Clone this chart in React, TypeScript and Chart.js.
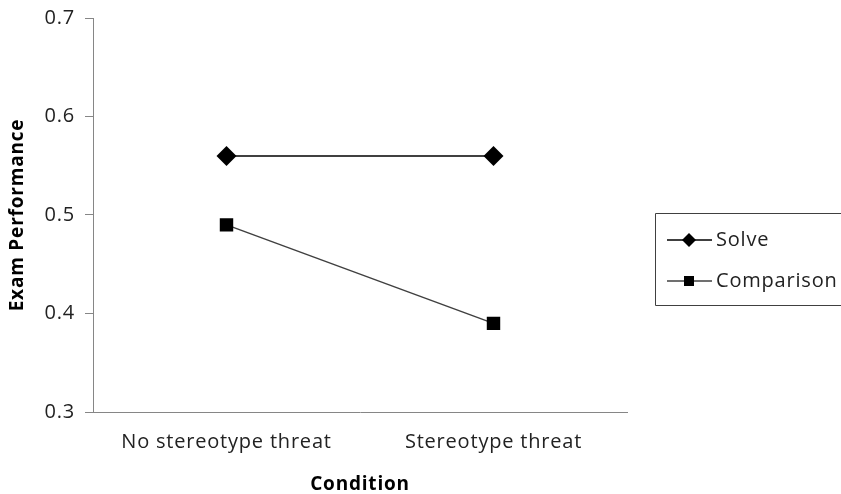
import React, { useEffect, useRef } from "react";
import { Chart, registerables } from "chart.js";

Chart.register(...registerables);

const categories = ["No stereotype threat", "Stereotype threat"];
const solveValues = [0.56, 0.56];
const comparisonValues = [0.49, 0.39];
const seriesNames = ["Solve", "Comparison"];
const yTicks = [0.3, 0.4, 0.5, 0.6, 0.7];

const FONT = "'Open Sans', 'Noto Sans', sans-serif";

const spacingPlugin = {
  id: "letterSpacing",
  beforeUpdate(chart: any) {
    chart.ctx.letterSpacing = "0.8px";
  },
  beforeDraw(chart: any) {
    chart.ctx.letterSpacing = "0.8px";
  },
};

const legendPlugin = {
  id: "boxLegend",
  afterDraw(chart: any) {
    const ctx = chart.ctx;
    const left = 655.5;
    const top = 213.5;
    const bottom = 305.5;
    ctx.save();
    ctx.strokeStyle = "#404040";
    ctx.lineWidth = 1;
    ctx.beginPath();
    ctx.moveTo(chart.width + 2, top);
    ctx.lineTo(left, top);
    ctx.lineTo(left, bottom);
    ctx.lineTo(chart.width + 2, bottom);
    ctx.stroke();
    const rows = [240, 281];
    chart.data.datasets.forEach((ds: any, i: number) => {
      const y = rows[i];
      ctx.strokeStyle = ds.borderColor;
      ctx.lineWidth = 1.5;
      ctx.beginPath();
      ctx.moveTo(667, y);
      ctx.lineTo(712, y);
      ctx.stroke();
      ctx.fillStyle = "#000";
      ctx.beginPath();
      if (ds.pointStyle === "rectRot") {
        const r = 7;
        ctx.moveTo(689 - r, y);
        ctx.lineTo(689, y - r);
        ctx.lineTo(689 + r, y);
        ctx.lineTo(689, y + r);
        ctx.closePath();
      } else {
        ctx.rect(689 - 5, y - 5, 10, 10);
      }
      ctx.fill();
      ctx.fillStyle = "#222";
      ctx.font = `20px ${FONT}`;
      ctx.letterSpacing = "0.8px";
      ctx.textBaseline = "middle";
      ctx.textAlign = "left";
      ctx.fillText(ds.label, 716, y);
    });
    ctx.restore();
  },
};

export default function App() {
  const ref = useRef<HTMLCanvasElement | null>(null);
  useEffect(() => {
    document.body.style.margin = "0";
    const canvas = ref.current!;
    const chart = new Chart(canvas, {
      type: "line",
      data: {
        labels: categories,
        datasets: [
          {
            label: seriesNames[0],
            data: solveValues,
            borderColor: "#000000",
            backgroundColor: "#000000",
            borderWidth: 1.5,
            pointStyle: "rectRot",
            pointRadius: 10,
            pointBorderWidth: 0,
            pointBackgroundColor: "#000000",
          },
          {
            label: seriesNames[1],
            data: comparisonValues,
            borderColor: "#404040",
            backgroundColor: "#000000",
            borderWidth: 1.5,
            pointStyle: "rect",
            pointRadius: 9.5,
            pointBorderWidth: 0,
            pointBackgroundColor: "#000000",
          },
        ],
      },
      options: {
        animation: false,
        responsive: false,
        layout: { padding: { top: 18, right: 214, left: 0, bottom: 0 } },
        plugins: {
          legend: { display: false },
          tooltip: { enabled: false },
        },
        scales: {
          x: {
            offset: true,
            grid: { display: false },
            border: { display: true, color: "#868686", width: 1 },
            ticks: { color: "#222", font: { family: FONT, size: 20 }, padding: 10 },
            title: {
              display: true,
              text: "Condition",
              color: "#000",
              font: { family: FONT, size: 19, weight: "bold" },
              padding: { top: 6, bottom: -2 },
            },
            afterFit(scale: any) {
              scale.height = 82;
              scale.paddingLeft = 0;
              scale.paddingRight = 0;
            },
          },
          y: {
            min: 0.3,
            max: 0.7,
            afterBuildTicks(scale: any) {
              scale.ticks = yTicks.map((v) => ({ value: v }));
            },
            grid: {
              display: true,
              drawOnChartArea: false,
              drawTicks: true,
              tickLength: 8,
              color: "#868686",
            },
            border: { display: true, color: "#868686", width: 1 },
            ticks: {
              color: "#222",
              font: { family: FONT, size: 20 },
              padding: 10,
              callback: (v: any) => Number(v).toFixed(1),
            },
            title: {
              display: true,
              text: "Exam Performance",
              color: "#000",
              font: { family: FONT, size: 19, weight: "bold" },
              padding: { top: 6, bottom: 6 },
            },
            afterFit(scale: any) {
              scale.width = 93;
              scale.paddingTop = 0;
              scale.paddingBottom = 0;
            },
          },
        },
      },
      plugins: [spacingPlugin, legendPlugin],
    });
    return () => chart.destroy();
  }, []);
  return <canvas ref={ref} width={841} height={494} style={{ display: "block" }} />;
}
